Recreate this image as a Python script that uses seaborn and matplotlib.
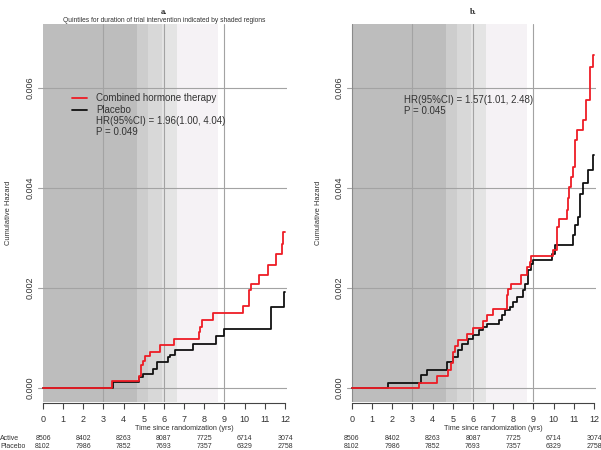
import matplotlib
matplotlib.use("Agg")
import matplotlib.pyplot as plt
import seaborn as sns
import pandas as pd
from matplotlib.lines import Line2D

# ---------------- data ----------------
groups = ["Combined hormone therapy", "Placebo"]

a_t_red = [0, 3.40, 4.77, 4.86, 4.96, 5.06, 5.31, 5.80, 6.50, 7.72, 7.78, 7.88, 8.42, 9.90,
           10.20, 10.33, 10.73, 11.15, 11.55, 11.83, 11.91, 12.0]
a_h_red = [0, 0.00014, 0.00024, 0.00046, 0.00054, 0.00064, 0.00073, 0.00086, 0.00099, 0.00112,
           0.00123, 0.00136, 0.00150, 0.00164, 0.00196, 0.00209, 0.00226, 0.00246, 0.00269,
           0.00288, 0.00313, 0.00313]
a_t_blk = [0, 3.45, 4.77, 4.97, 5.44, 5.67, 6.21, 6.30, 6.54, 7.42, 8.58, 8.99, 11.30, 11.93, 12.0]
a_h_blk = [0, 0.00013, 0.00023, 0.00028, 0.00038, 0.00052, 0.00063, 0.00067, 0.00077, 0.00089,
           0.00104, 0.00119, 0.00163, 0.00193, 0.00193]

b_t_red = [0, 3.32, 4.20, 4.77, 4.89, 4.99, 5.11, 5.27, 5.69, 6.02, 6.50, 6.68, 6.97, 7.67, 7.75,
           7.87, 8.36, 8.66, 8.82, 8.87, 9.98, 10.15, 10.18, 10.28, 10.64, 10.70, 10.77, 10.86,
           10.94, 11.06, 11.17, 11.44, 11.60, 11.80, 11.93, 12.0]
b_h_red = [0, 0.00011, 0.00025, 0.00037, 0.00051, 0.00073, 0.00085, 0.00097, 0.00109, 0.00121,
           0.00135, 0.00146, 0.00159, 0.00186, 0.00199, 0.00209, 0.00226, 0.00243, 0.00253,
           0.00264, 0.00276, 0.00283, 0.00323, 0.00339, 0.00356, 0.00380, 0.00403, 0.00423,
           0.00443, 0.00496, 0.00516, 0.00536, 0.00576, 0.00643, 0.00666, 0.00666]
b_t_blk = [0, 1.80, 3.42, 3.73, 4.73, 4.99, 5.27, 5.47, 5.77, 6.02, 6.31, 6.51, 6.68, 7.30, 7.42,
           7.59, 7.83, 8.00, 8.20, 8.49, 8.58, 8.74, 8.86, 8.96, 9.90, 10.06, 10.94, 11.06, 11.22,
           11.30, 11.44, 11.72, 11.93, 12.0]
b_h_blk = [0, 0.00011, 0.00026, 0.00037, 0.00052, 0.00063, 0.00076, 0.00089, 0.00099, 0.00106,
           0.00116, 0.00123, 0.00129, 0.00136, 0.00146, 0.00156, 0.00163, 0.00173, 0.00183,
           0.00196, 0.00209, 0.00236, 0.00249, 0.00256, 0.00269, 0.00286, 0.00306, 0.00326,
           0.00343, 0.00389, 0.00411, 0.00436, 0.00466, 0.00466]

quintiles = [4.65, 5.22, 5.90, 6.65, 8.67]
band_colors = ["#bdbdbd", "#cdcdcd", "#d8d8d8", "#e4e4e4", "#f5f2f5"]

x_ticks = list(range(0, 13))
y_ticks = [0.000, 0.002, 0.004, 0.006]
y_tick_labels = ["0.000", "0.002", "0.004", "0.006"]
risk_times = [0, 2, 4, 6, 8, 10, 12]
risk_active = [8506, 8402, 8263, 8087, 7725, 6714, 3074]
risk_placebo = [8102, 7986, 7852, 7693, 7357, 6329, 2758]

hr_a = ["HR(95%CI) = 1.96(1.00, 4.04)", "P = 0.049"]
hr_b = ["HR(95%CI) = 1.57(1.01, 2.48)", "P = 0.045"]

# ---------------- figure ----------------
sns.set_theme(style="white")
plt.rcParams["font.family"] = ["Liberation Sans", "DejaVu Sans"]

W, H = 601, 450
fig = plt.figure(figsize=(W / 100, H / 100), dpi=100)
fig.patch.set_facecolor("white")

def ftext(xp, yp, s, **kw):
    return fig.text(xp / W, 1 - yp / H, s, **kw)

GRID = "#a3a3a3"
TXT = "#333333"

def panel(left_px, t_red, h_red, t_blk, h_blk, letter, hr_lines, hr_pos, show_legend):
    ax = fig.add_axes([left_px / W, (H - 402) / H, 249 / W, 378 / H])
    ax.set_facecolor("white")
    ax.set_xlim(-0.248, 12.1)
    ax.set_ylim(-0.00028, 0.00728)
    starts = [0] + quintiles[:-1]
    for s, e, c in zip(starts, quintiles, band_colors):
        ax.axvspan(s, e, color=c, lw=0, zorder=0)
    for v in [3, 6, 9]:
        ax.axvline(v, color=GRID, lw=0.8, zorder=1)
    for hh in y_ticks:
        ax.axhline(hh, color=GRID, lw=0.8, zorder=1)

    df = pd.concat([
        pd.DataFrame({"t": t_red, "h": h_red, "grp": groups[0]}),
        pd.DataFrame({"t": t_blk, "h": h_blk, "grp": groups[1]}),
    ])
    sns.lineplot(data=df, x="t", y="h", hue="grp", hue_order=[groups[1], groups[0]],
                 palette={groups[0]: "#ee1c25", groups[1]: "#111111"},
                 drawstyle="steps-post", estimator=None, sort=False, lw=1.3,
                 legend=False, ax=ax, zorder=3)

    for sp in ["top", "right", "left"]:
        ax.spines[sp].set_visible(False)
    ax.spines["bottom"].set_bounds(0, 12)
    ax.spines["bottom"].set_color("#444444")
    ax.spines["bottom"].set_linewidth(0.8)
    ax.spines["bottom"].set_position(("outward", 1))
    ax.set_xticks(x_ticks)
    ax.set_xticklabels([str(v) for v in x_ticks], fontsize=6.5, color=TXT)
    ax.tick_params(axis="x", length=4, width=0.8, color="#444444", pad=4, bottom=True)
    ax.set_yticks(y_ticks)
    ax.set_yticklabels(y_tick_labels, fontsize=6.5, color=TXT, rotation=90, va="center")
    ax.tick_params(axis="y", length=0, pad=2.5)
    ax.set_xlabel("")
    ax.set_ylabel("")
    ax.grid(False)

    x0 = left_px + 5  # pixel of t=0
    pxu = 242 / 12
    ftext(x0 + 121, 12, letter, fontsize=6, fontweight="bold",
          family=["Liberation Serif", "DejaVu Serif"], ha="center", va="center")
    ftext(x0 - 34, 213, "Cumulative Hazard", fontsize=5.4, color=TXT, rotation=90,
          ha="center", va="center")
    ftext(x0 + 141, 429, "Time since randomization (yrs)", fontsize=5.2, color=TXT,
          ha="center", va="center")
    for t, a, p in zip(risk_times, risk_active, risk_placebo):
        ftext(x0 + t * pxu, 439, str(a), fontsize=5, color=TXT, ha="center", va="center")
        ftext(x0 + t * pxu, 447, str(p), fontsize=5, color=TXT, ha="center", va="center")

    hx, hy = hr_pos
    if show_legend:
        for yy, col in [(98, "#ee1c25"), (110, "#111111")]:
            fig.add_artist(Line2D([(hx - 24) / W, (hx - 9) / W], [1 - yy / H, 1 - yy / H],
                                  color=col, lw=1.3, transform=fig.transFigure))
        ftext(hx, 98, groups[0], fontsize=7, color=TXT, va="center")
        ftext(hx, 110, groups[1], fontsize=7, color=TXT, va="center")
    for i, s in enumerate(hr_lines):
        ftext(hx, hy + i * 11, s, fontsize=7, color=TXT, va="center")
    return ax

axa = panel(38, a_t_red, a_h_red, a_t_blk, a_h_blk, "a.", hr_a, (96, 121), True)
axb = panel(347, b_t_red, b_h_red, b_t_blk, b_h_blk, "b.", hr_b, (404, 100), False)
axb.axvline(0, color="#8a8a8a", lw=0.8, zorder=1)

ftext(164, 20, "Quintiles for duration of trial intervention indicated by shaded regions",
      fontsize=4.8, color=TXT, ha="center", va="center")
ftext(0, 439, "Active", fontsize=5, color=TXT, ha="left", va="center")
ftext(0, 447, "Placebo", fontsize=5, color=TXT, ha="left", va="center")

fig.savefig("out.png", dpi=100, facecolor="white")
